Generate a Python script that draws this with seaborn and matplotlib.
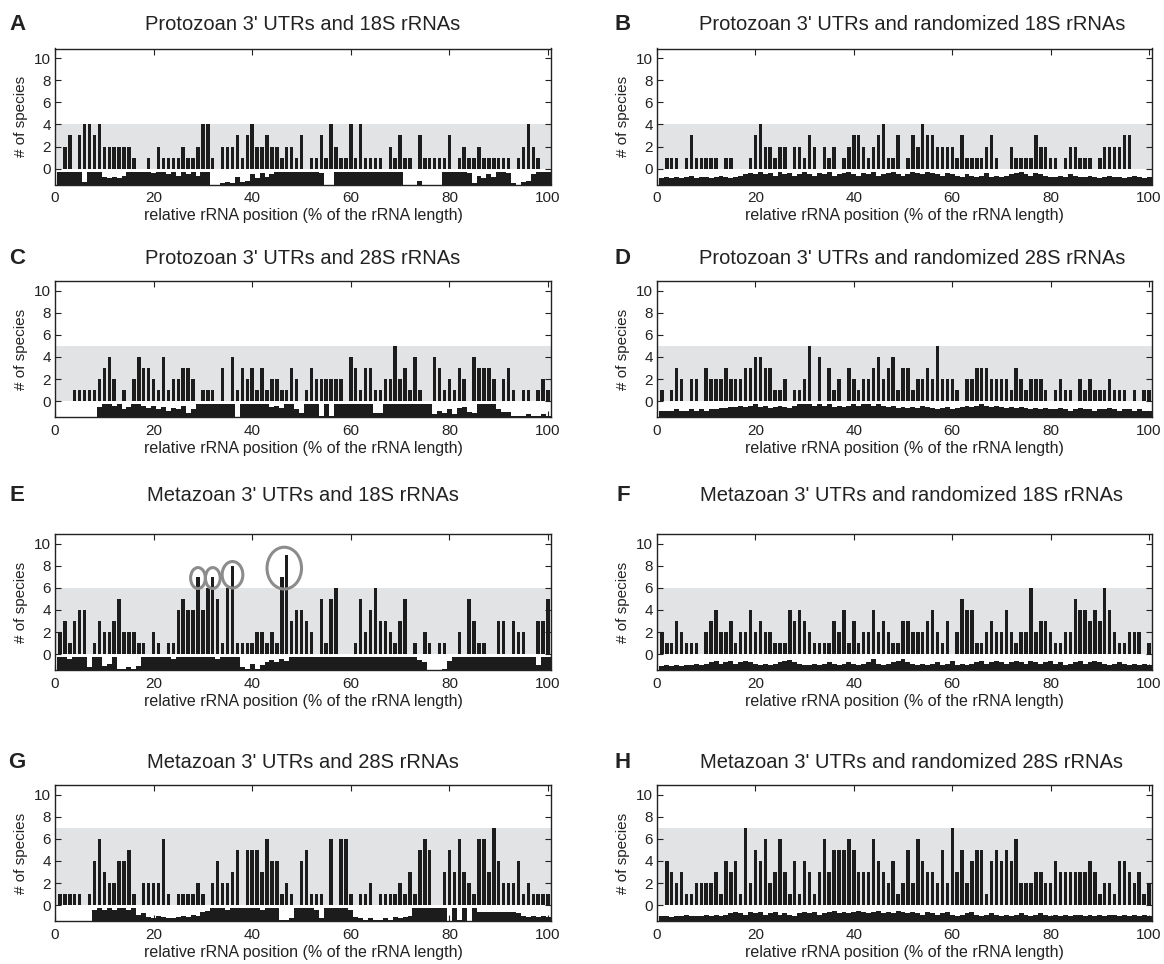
import matplotlib
matplotlib.use("Agg")
import matplotlib.pyplot as plt
import numpy as np
import pandas as pd
import seaborn as sns
from matplotlib.patches import Ellipse

sns.set_style("ticks")
plt.rcParams["font.family"] = ["Liberation Sans", "DejaVu Sans"]

FIG_W, FIG_H = 1164, 964

POSITIONS = list(range(1, 101))
X_TICKS = [0, 20, 40, 60, 80, 100]
Y_TICKS = [0, 2, 4, 6, 8, 10]

LETTERS = ["A", "B", "C", "D", "E", "F", "G", "H"]
TITLES = [
    "Protozoan 3' UTRs and 18S rRNAs",
    "Protozoan 3' UTRs and randomized 18S rRNAs",
    "Protozoan 3' UTRs and 28S rRNAs",
    "Protozoan 3' UTRs and randomized 28S rRNAs",
    "Metazoan 3' UTRs and 18S rRNAs",
    "Metazoan 3' UTRs and randomized 18S rRNAs",
    "Metazoan 3' UTRs and 28S rRNAs",
    "Metazoan 3' UTRs and randomized 28S rRNAs",
]
# upper edge of the grey band (max count seen with randomized rRNAs)
BAND_TOPS = [4, 4, 5, 5, 6, 6, 7, 7]

# number of species per relative rRNA position (1..100)
A_COUNTS = [0, 2, 3, 0, 3, 4, 4, 3, 4, 2,
            2, 2, 2, 2, 2, 1, 0, 0, 1, 0,
            2, 1, 1, 1, 1, 2, 1, 1, 2, 4,
            4, 1, 0, 2, 2, 2, 3, 1, 3, 4,
            2, 2, 3, 2, 2, 1, 2, 2, 1, 3,
            0, 1, 1, 3, 1, 4, 2, 1, 1, 4,
            1, 4, 1, 1, 1, 1, 0, 2, 1, 3,
            1, 1, 0, 3, 1, 1, 1, 1, 1, 3,
            0, 1, 2, 1, 1, 2, 1, 1, 1, 1,
            1, 1, 0, 1, 2, 4, 2, 1, 0, 0]
B_COUNTS = [0, 1, 1, 1, 0, 1, 3, 1, 1, 1,
            1, 1, 0, 1, 1, 0, 0, 0, 1, 3,
            4, 2, 2, 1, 2, 2, 0, 2, 2, 1,
            3, 2, 0, 2, 1, 2, 0, 1, 2, 3,
            3, 2, 1, 2, 3, 4, 1, 1, 3, 0,
            1, 3, 2, 4, 3, 3, 2, 2, 2, 2,
            1, 3, 1, 1, 1, 1, 2, 3, 1, 0,
            0, 2, 1, 1, 1, 1, 3, 2, 2, 1,
            1, 0, 1, 2, 2, 1, 1, 1, 0, 1,
            2, 2, 2, 2, 3, 3, 0, 0, 0, 0]
C_COUNTS = [0, 0, 0, 1, 1, 1, 1, 1, 2, 3,
            4, 2, 0, 1, 0, 2, 4, 3, 3, 2,
            1, 4, 1, 2, 2, 3, 3, 2, 0, 1,
            1, 1, 0, 3, 0, 4, 1, 3, 2, 3,
            1, 3, 1, 2, 2, 1, 1, 3, 2, 0,
            1, 3, 2, 2, 2, 2, 2, 2, 0, 4,
            3, 1, 3, 3, 1, 1, 2, 2, 5, 2,
            3, 1, 4, 1, 0, 0, 4, 3, 1, 2,
            1, 3, 2, 0, 4, 3, 3, 3, 2, 0,
            2, 3, 1, 0, 1, 1, 0, 1, 2, 1]
D_COUNTS = [1, 0, 1, 3, 2, 0, 2, 2, 0, 3,
            2, 2, 2, 3, 2, 2, 2, 3, 3, 4,
            4, 3, 3, 1, 1, 2, 0, 1, 1, 2,
            5, 0, 4, 0, 3, 1, 2, 0, 3, 2,
            1, 2, 2, 3, 4, 2, 3, 4, 1, 3,
            3, 1, 2, 2, 3, 2, 5, 2, 2, 2,
            1, 0, 2, 2, 3, 3, 3, 2, 2, 2,
            2, 1, 3, 2, 1, 2, 2, 2, 1, 0,
            1, 2, 1, 1, 0, 2, 1, 2, 1, 1,
            1, 2, 1, 1, 1, 0, 1, 0, 1, 1]
E_COUNTS = [2, 3, 1, 3, 4, 4, 0, 1, 3, 2,
            2, 3, 5, 2, 2, 2, 1, 1, 0, 2,
            1, 0, 1, 1, 4, 5, 4, 4, 7, 4,
            6, 7, 5, 1, 6, 8, 1, 1, 1, 1,
            2, 2, 1, 2, 1, 7, 9, 3, 4, 4,
            3, 2, 0, 5, 1, 5, 6, 0, 0, 0,
            1, 5, 2, 4, 6, 3, 3, 2, 1, 3,
            5, 0, 1, 0, 2, 1, 0, 1, 1, 0,
            0, 2, 0, 5, 3, 1, 1, 0, 0, 3,
            3, 0, 3, 2, 2, 0, 0, 3, 3, 5]
F_COUNTS = [2, 1, 1, 3, 2, 1, 1, 1, 0, 2,
            3, 4, 2, 2, 3, 1, 2, 2, 4, 2,
            3, 2, 2, 1, 1, 1, 4, 3, 4, 3,
            2, 1, 1, 1, 1, 3, 2, 4, 1, 3,
            1, 2, 2, 4, 2, 3, 2, 1, 1, 3,
            3, 2, 2, 2, 3, 4, 2, 1, 3, 0,
            2, 5, 4, 4, 1, 1, 2, 3, 2, 2,
            4, 2, 1, 2, 2, 6, 2, 3, 3, 2,
            1, 1, 2, 2, 5, 4, 4, 3, 4, 3,
            6, 4, 2, 1, 1, 2, 2, 2, 0, 1]
G_COUNTS = [1, 1, 1, 1, 1, 0, 1, 4, 6, 3,
            2, 2, 4, 4, 5, 1, 0, 2, 2, 2,
            2, 6, 1, 0, 1, 1, 1, 1, 2, 1,
            0, 2, 4, 2, 2, 3, 5, 0, 5, 5,
            5, 3, 6, 4, 4, 1, 2, 1, 0, 4,
            5, 1, 1, 1, 0, 6, 0, 6, 6, 1,
            0, 1, 1, 2, 0, 1, 1, 1, 1, 2,
            1, 3, 1, 5, 6, 5, 0, 0, 3, 5,
            3, 6, 3, 2, 1, 6, 6, 3, 7, 4,
            2, 2, 2, 4, 1, 2, 1, 1, 1, 1]
H_COUNTS = [0, 4, 3, 2, 3, 1, 1, 2, 2, 2,
            2, 3, 1, 4, 3, 4, 1, 7, 2, 5,
            4, 6, 2, 3, 6, 3, 1, 4, 1, 4,
            3, 1, 3, 6, 3, 5, 5, 5, 6, 5,
            3, 3, 3, 6, 4, 3, 2, 4, 1, 2,
            5, 2, 6, 4, 3, 3, 2, 5, 2, 7,
            3, 5, 2, 4, 5, 5, 1, 4, 5, 4,
            5, 4, 6, 2, 2, 2, 3, 3, 2, 2,
            4, 3, 3, 3, 3, 3, 3, 4, 3, 1,
            2, 2, 1, 4, 4, 3, 2, 3, 1, 2]

# profile strip under each panel, in tenths of the strip height
A_STRIP = [10, 10, 10, 10, 10, 2, 10, 10, 10, 6,
           5, 6, 5, 7, 10, 10, 10, 10, 10, 9,
           10, 10, 8, 10, 7, 10, 8, 10, 7, 10,
           10, 0, 0, 1, 2, 1, 6, 2, 3, 8,
           5, 9, 6, 8, 10, 10, 10, 10, 10, 10,
           10, 10, 10, 9, 0, 0, 10, 10, 10, 10,
           10, 10, 10, 10, 10, 10, 10, 10, 10, 10,
           0, 0, 0, 3, 0, 0, 0, 0, 10, 10,
           10, 10, 10, 9, 1, 7, 5, 8, 6, 10,
           10, 9, 1, 0, 2, 3, 8, 10, 10, 10]
B_STRIP = [5, 6, 5, 6, 5, 6, 7, 5, 6, 6,
           5, 6, 7, 6, 5, 6, 7, 8, 9, 8,
           10, 8, 9, 7, 10, 8, 9, 7, 8, 10,
           8, 7, 9, 8, 10, 7, 8, 9, 10, 8,
           7, 9, 8, 10, 7, 8, 9, 10, 8, 7,
           8, 10, 9, 8, 10, 9, 8, 7, 9, 8,
           7, 6, 8, 7, 6, 7, 9, 6, 7, 6,
           7, 8, 9, 10, 8, 7, 9, 8, 7, 6,
           6, 7, 6, 8, 7, 6, 6, 7, 6, 5,
           6, 7, 6, 6, 5, 6, 7, 6, 5, 6]
C_STRIP = [0, 0, 0, 0, 0, 0, 0, 0, 8, 10,
           10, 9, 10, 6, 8, 10, 10, 9, 7, 9,
           6, 8, 5, 7, 6, 9, 3, 6, 10, 10,
           10, 10, 10, 10, 10, 10, 0, 10, 10, 10,
           10, 10, 10, 8, 9, 7, 10, 10, 6, 3,
           10, 10, 10, 1, 10, 1, 10, 10, 10, 10,
           10, 10, 10, 10, 3, 3, 10, 10, 10, 10,
           10, 10, 10, 10, 10, 10, 2, 5, 3, 6,
           2, 7, 8, 4, 3, 10, 10, 10, 10, 6,
           4, 4, 1, 1, 1, 2, 1, 1, 2, 1]
D_STRIP = [5, 5, 5, 6, 5, 5, 6, 5, 6, 5,
           6, 6, 7, 7, 8, 8, 9, 8, 9, 10,
           8, 9, 7, 8, 9, 8, 7, 9, 10, 10,
           10, 9, 10, 9, 10, 8, 9, 8, 9, 10,
           9, 10, 10, 9, 10, 9, 8, 9, 7, 8,
           7, 8, 7, 9, 8, 7, 6, 7, 8, 6,
           7, 8, 9, 8, 9, 10, 9, 8, 9, 8,
           7, 8, 7, 8, 7, 6, 7, 6, 7, 6,
           6, 7, 6, 5, 6, 7, 6, 6, 5, 6,
           6, 7, 6, 5, 6, 6, 5, 6, 5, 5]
E_STRIP = [10, 10, 9, 10, 10, 10, 2, 10, 10, 3,
           5, 10, 1, 1, 2, 1, 3, 10, 10, 10,
           10, 10, 10, 9, 10, 10, 10, 10, 10, 10,
           10, 10, 9, 10, 10, 10, 10, 2, 1, 5,
           1, 4, 6, 8, 6, 9, 7, 10, 10, 10,
           10, 10, 10, 10, 10, 10, 10, 10, 10, 10,
           10, 10, 10, 10, 10, 10, 10, 10, 10, 10,
           10, 10, 10, 8, 6, 0, 0, 0, 1, 7,
           10, 10, 10, 10, 10, 10, 10, 10, 10, 10,
           10, 10, 10, 10, 10, 10, 10, 4, 10, 10]
F_STRIP = [3, 4, 3, 4, 3, 4, 4, 5, 4, 5,
           6, 7, 5, 6, 7, 5, 6, 7, 6, 5,
           4, 5, 4, 5, 6, 7, 8, 6, 5, 4,
           4, 5, 4, 5, 6, 5, 4, 5, 6, 5,
           4, 5, 6, 9, 5, 4, 5, 6, 7, 9,
           6, 5, 4, 5, 4, 5, 6, 4, 5, 7,
           4, 5, 4, 5, 6, 7, 5, 6, 7, 6,
           5, 6, 7, 6, 5, 7, 6, 5, 6, 7,
           5, 6, 4, 5, 6, 7, 5, 6, 7, 6,
           5, 4, 5, 6, 5, 4, 5, 4, 5, 4]
G_STRIP = [0, 0, 0, 0, 0, 0, 0, 9, 10, 9,
           10, 9, 10, 10, 9, 10, 5, 6, 3, 2,
           4, 3, 2, 2, 3, 4, 3, 5, 4, 7,
           8, 10, 10, 10, 9, 10, 10, 10, 10, 10,
           10, 9, 10, 10, 10, 1, 1, 2, 10, 10,
           10, 10, 9, 2, 10, 10, 10, 10, 10, 9,
           3, 2, 1, 2, 1, 1, 2, 1, 3, 2,
           3, 4, 10, 10, 10, 10, 10, 10, 10, 0,
           10, 1, 10, 0, 10, 7, 7, 7, 7, 7,
           7, 7, 7, 6, 4, 3, 4, 3, 4, 3]
H_STRIP = [4, 4, 3, 4, 4, 5, 4, 4, 4, 5,
           4, 5, 4, 5, 6, 7, 6, 5, 7, 6,
           7, 5, 6, 7, 5, 6, 5, 4, 6, 7,
           6, 7, 5, 6, 7, 8, 6, 7, 6, 7,
           8, 7, 6, 7, 8, 6, 7, 6, 8, 7,
           6, 7, 6, 5, 7, 6, 5, 6, 7, 5,
           4, 5, 6, 7, 5, 4, 5, 6, 5, 4,
           5, 4, 5, 6, 5, 4, 5, 6, 5, 4,
           5, 4, 5, 4, 5, 5, 4, 5, 4, 5,
           4, 5, 5, 4, 5, 4, 5, 4, 5, 4]

COUNTS = [A_COUNTS, B_COUNTS, C_COUNTS, D_COUNTS, E_COUNTS, F_COUNTS, G_COUNTS, H_COUNTS]
STRIPS = [A_STRIP, B_STRIP, C_STRIP, D_STRIP, E_STRIP, F_STRIP, G_STRIP, H_STRIP]

# circled positions in panel E
E_HIGHLIGHTS = [[29], [32], [36], [46, 47]]

BAR_COLOR = "#1c1c1c"
BAND_COLOR = "#e2e3e5"
CIRCLE_COLOR = "#8c8c8c"
STRIP_BOTTOM = -1.45
STRIP_TOP = -0.3
# width, height, vertical shift from the bar top (data units)
CIRCLE_STYLE = [(3.0, 1.9, -0.1), (3.0, 1.9, -0.1), (4.2, 2.4, -0.8), (7.0, 3.8, -1.2)]

# panel placement in pixels: (left, right, title centre) per column, (top, bottom, title_y) per row
COLUMNS = [(55, 551, 303), (657, 1152, 912)]
LETTER_X = [17, 623]
ROWS = [(48.5, 184.5, 24), (281, 417, 259), (534, 670, 496), (785, 921, 763)]


def draw_panel(fig, index):
    row, col = divmod(index, 2)
    left, right, title_x = COLUMNS[col]
    top, bottom, title_y = ROWS[row]
    ax = fig.add_axes([left / FIG_W, 1 - bottom / FIG_H, (right - left) / FIG_W, (bottom - top) / FIG_H])

    ax.axhspan(0, BAND_TOPS[index], color=BAND_COLOR, linewidth=0, zorder=0)

    df = pd.DataFrame({"position": POSITIONS, "species": COUNTS[index]})
    sns.barplot(data=df, x="position", y="species", native_scale=True, width=0.7,
                color=BAR_COLOR, saturation=1, linewidth=0, errorbar=None, ax=ax, zorder=2)

    strip = np.array(STRIPS[index]) / 10 * (STRIP_TOP - STRIP_BOTTOM)
    ax.bar(POSITIONS, strip, bottom=STRIP_BOTTOM, width=1.0, color=BAR_COLOR,
           linewidth=0, zorder=2)

    ax.set_xlim(0, 100.6)
    ax.set_ylim(-1.45, 10.9)
    ax.set_xticks(X_TICKS)
    ax.set_yticks(Y_TICKS)
    ax.set_xticklabels([str(t) for t in X_TICKS])
    ax.tick_params(direction="in", top=True, right=True, length=4, width=0.8,
                   labelsize=11, colors="#222222", pad=5)
    ax.tick_params(axis="y", pad=3)
    for spine in ax.spines.values():
        spine.set_visible(True)
        spine.set_linewidth(1.0)
        spine.set_color("#222222")
        spine.set_zorder(4)

    ax.set_xlabel("relative rRNA position (% of the rRNA length)", fontsize=11.5,
                  color="#222222", labelpad=2)
    ax.set_ylabel("# of species", fontsize=11, color="#222222", labelpad=4)

    fig.text(LETTER_X[col] / FIG_W, 1 - title_y / FIG_H, LETTERS[index], fontsize=16,
             fontweight="bold", ha="center", va="center", color="#222222")
    fig.text(title_x / FIG_W, 1 - title_y / FIG_H, TITLES[index], fontsize=14.5,
             ha="center", va="center", color="#222222")

    if LETTERS[index] == "E":
        for group, (w, h, dy) in zip(E_HIGHLIGHTS, CIRCLE_STYLE):
            cx = float(np.mean(group))
            cy = max(E_COUNTS[p - 1] for p in group) + dy
            ax.add_patch(Ellipse((cx, cy), w, h, fill=False, edgecolor=CIRCLE_COLOR,
                                 linewidth=2.2, zorder=3))
    return ax


fig = plt.figure(figsize=(FIG_W / 100, FIG_H / 100), dpi=100)
for i in range(8):
    draw_panel(fig, i)

fig.savefig("out.png", dpi=100, facecolor="white")
